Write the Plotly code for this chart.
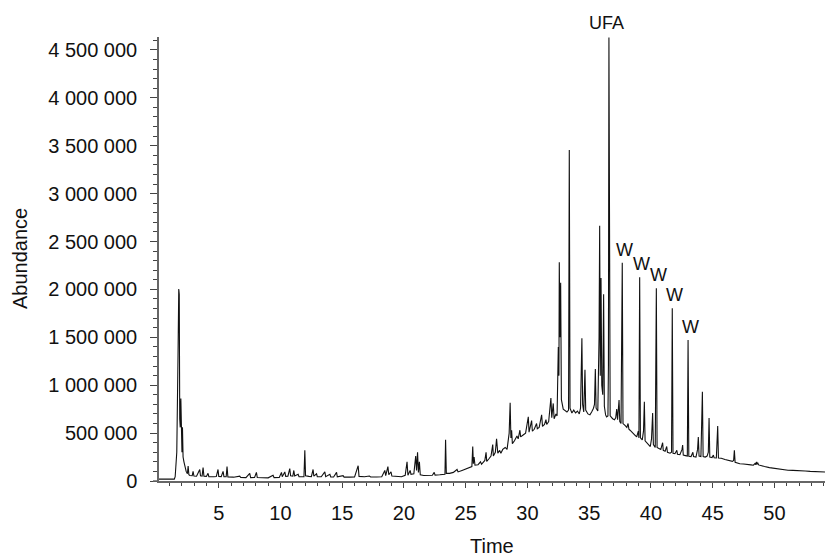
import plotly.graph_objects as go

# ---- digitised chromatogram (time in min, abundance in thousands) ----
T1 = [0.16, 1.40, 1.47, 1.60, 1.70, 1.76, 1.80, 1.84, 1.88, 1.93, 1.97, 2.02, 2.06, 2.11,
      2.18, 2.26, 2.36, 2.46, 2.52, 2.58, 2.66, 2.85, 2.92, 2.99]
A1 = [20, 20, 45, 300, 1300, 2005, 1950, 650, 560, 860, 420, 300, 560, 250,
      200, 140, 100, 75, 157, 65, 58, 55, 100, 52]

T2 = [3.2, 3.46, 3.52, 3.65, 3.73, 3.8, 4.0, 4.13, 4.2, 4.6, 4.8, 4.94, 5.0, 5.2, 5.35, 5.42,
      5.6, 5.67, 5.74, 6.2, 6.7, 6.78, 7.2, 7.51, 7.58, 7.9, 8.05, 8.12, 8.6, 9.0, 9.4, 9.48,
      9.9, 10.08, 10.14, 10.35, 10.42, 10.6, 10.75, 10.82, 11.0, 11.08, 11.15, 11.43, 11.5,
      11.9, 11.97, 12.03, 12.3, 12.5, 12.64, 12.7, 12.92, 12.98, 13.3, 13.59, 13.66, 14.0,
      14.07, 14.3, 14.54, 14.6, 15.07, 15.15, 15.6, 16.0, 16.29, 16.36, 16.8, 17.2, 17.3,
      17.7, 17.8, 18.2, 18.45, 18.52, 18.7, 18.77, 18.95, 19.02, 19.4, 19.8, 20.1, 20.25,
      20.32, 20.5, 20.57, 20.8, 20.95, 21.02, 21.1, 21.17, 21.25, 21.32, 21.6, 22.0]
A2 = [50, 120, 55, 52, 140, 50, 48, 80, 45, 44, 46, 120, 48, 46, 100, 45,
      44, 150, 42, 40, 50, 36, 35, 80, 35, 36, 90, 36, 34, 33, 60, 35,
      38, 90, 45, 95, 48, 50, 130, 55, 50, 110, 52, 70, 45,
      45, 320, 55, 48, 45, 120, 50, 75, 45, 44, 95, 45, 70,
      42, 42, 90, 43, 55, 40, 40, 42, 160, 48, 45, 52, 42,
      48, 42, 45, 110, 55, 150, 65, 95, 52, 48, 44, 60, 200,
      60, 110, 70, 75, 260, 110, 300, 90, 200, 65, 58, 55]

T3 = [22.3, 22.45, 22.52, 22.9, 23.32, 23.37, 23.43, 23.7, 24.0, 24.3, 24.38, 24.7, 25.0,
      25.3, 25.5, 25.57, 25.62, 25.68, 25.75, 26.0, 26.2, 26.28, 26.55, 26.65, 26.7, 26.9,
      27.05, 27.19, 27.24, 27.4, 27.5, 27.6, 27.75, 27.85, 28.0, 28.2, 28.35, 28.52, 28.6,
      28.66, 28.72, 28.78, 28.95, 29.15, 29.25, 29.39, 29.45, 29.65, 29.85, 30.07, 30.13,
      30.34, 30.4, 30.55, 30.74, 30.8, 30.95, 31.15, 31.22, 31.38, 31.5, 31.56, 31.72, 31.9,
      31.97, 32.09, 32.16, 32.31, 32.4, 32.5, 32.55, 32.58, 32.63, 32.69, 32.75, 32.9]
A3 = [60, 90, 62, 65, 70, 430, 80, 80, 90, 120, 95, 110, 125,
      140, 150, 360, 180, 250, 165, 170, 200, 175, 215, 300, 205, 235,
      260, 380, 260, 300, 440, 290, 320, 290, 330, 350, 330, 500, 817,
      450, 530, 390, 420, 470, 440, 530, 460, 480, 500, 670, 510,
      630, 520, 540, 600, 545, 560, 690, 570, 590, 640, 590, 620, 866,
      660, 810, 650, 700, 680, 1400, 1100, 2283, 1500, 2070, 850, 750]

T4 = [33.05, 33.2, 33.33, 33.39, 33.45, 33.6, 33.75, 33.9, 34.05, 34.2, 34.3, 34.41, 34.47,
      34.56, 34.66, 34.72, 34.9, 35.06, 35.2, 35.35, 35.43, 35.5, 35.56, 35.7, 35.8, 35.85,
      35.9, 35.96, 36.02, 36.1, 36.17, 36.23, 36.33, 36.41, 36.52, 36.56, 36.60, 36.64, 36.7,
      36.9, 37.05, 37.15, 37.23, 37.3, 37.42, 37.48, 37.58]
A4 = [730, 720, 740, 3455, 760, 710, 740, 710, 730, 700, 760, 1490, 800,
      720, 1160, 740, 700, 690, 720, 760, 800, 1170, 760, 730, 1500, 2665,
      1100, 2120, 1000, 900, 1950, 780, 690, 670, 680, 1200, 4630, 1300, 680,
      650, 640, 660, 750, 640, 845, 620, 600]

T5 = [37.68, 37.74, 37.9, 38.05, 38.15, 38.22, 38.31, 38.5, 38.7, 38.85, 38.98, 39.03, 39.09,
      39.15, 39.3, 39.4, 39.47, 39.53, 39.66, 39.8, 39.95, 40.05, 40.14, 40.2, 40.35, 40.44,
      40.5, 40.65, 40.8, 40.95, 41.0, 41.15, 41.28, 41.34, 41.55, 41.67, 41.73, 41.79, 41.95,
      42.1, 42.15, 42.35, 42.52, 42.57, 42.62, 42.8, 42.95, 43.01, 43.07, 43.25, 43.4, 43.45,
      43.65, 43.78, 43.84, 43.9, 44.05, 44.17, 44.23, 44.4, 44.55, 44.65, 44.71, 44.77, 44.95,
      45.06, 45.12, 45.3, 45.41, 45.47, 45.7, 46.0]
A5 = [2279, 600, 580, 560, 600, 540, 530, 510, 480, 460, 520, 450, 2126,
      450, 430, 520, 828, 420, 400, 380, 360, 440, 710, 380, 350, 2011,
      350, 340, 330, 400, 320, 310, 360, 300, 290, 300, 1803, 290, 285,
      320, 280, 275, 330, 376, 270, 265, 260, 1472, 258, 255, 300, 255,
      250, 330, 460, 260, 255, 932, 255, 250, 260, 300, 657, 250, 245,
      270, 242, 240, 574, 240, 237, 225]

T6 = [46.4, 46.6, 46.7, 46.76, 46.82, 47.0, 47.2, 47.5, 47.8, 48.1, 48.3, 48.45, 48.5, 48.57,
      48.62, 48.65, 48.72, 48.9, 49.2, 49.6, 50.0, 50.5, 51.1, 51.5, 52.0, 52.5, 52.9, 53.5, 54.1]
A6 = [210, 205, 215, 320, 195, 188, 180, 178, 170, 168, 165, 185, 168, 200,
      175, 190, 168, 160, 152, 140, 132, 125, 113, 111, 110, 104, 100, 97, 94]

# labelled peaks
UFA_TIME, UFA_HEIGHT_K = 36.60, 4630
W_TIMES = [37.68, 39.09, 40.44, 41.73, 43.01]
W_HEIGHTS_K = [2279, 2126, 2011, 1803, 1472]

X_TICKS = [5, 10, 15, 20, 25, 30, 35, 40, 45, 50]

time = T1 + T2 + T3 + T4 + T5 + T6
abund = [v * 1000 for v in (A1 + A2 + A3 + A4 + A5 + A6)]

FONT = "Liberation Sans, Arial, sans-serif"

fig = go.Figure()
fig.add_trace(go.Scatter(x=time, y=abund, mode="lines",
                         line=dict(color="#111111", width=1.1), showlegend=False,
                         hoverinfo="skip"))

axis_col = "#666666"
fig.update_xaxes(range=[0.16, 54.1], showgrid=False, zeroline=False,
                 showline=True, linecolor=axis_col, linewidth=1.5,
                 tickmode="array", tickvals=X_TICKS, ticktext=[str(v) for v in X_TICKS],
                 ticks="outside", ticklen=5, tickwidth=1.3, tickcolor="#444",
                 ticklabelstandoff=8,
                 minor=dict(dtick=1, tick0=0, ticks="outside", ticklen=3,
                            tickwidth=1, tickcolor="#444"),
                 tickfont=dict(family=FONT, size=20, color="#111"))
fig.update_yaxes(range=[0, 4.635e6], showgrid=False, zeroline=False,
                 showline=True, linecolor=axis_col, linewidth=1.5,
                 dtick=500000, tick0=0, tickformat=",d",
                 ticks="outside", ticklen=7, tickwidth=1.3, tickcolor="#444",
                 ticklabelstandoff=9,
                 minor=dict(dtick=100000, tick0=0, ticks="outside", ticklen=4,
                            tickwidth=1, tickcolor="#444"),
                 tickfont=dict(family=FONT, size=20, color="#111"))

annotations = [
    dict(x=0.5, y=-0.1685, xref="paper", yref="paper", text="Time", showarrow=False,
         xanchor="center", yanchor="bottom", yshift=-3,
         font=dict(family=FONT, size=20, color="#111")),
    dict(x=-0.2087, y=0.5, xref="paper", yref="paper", text="Abundance", showarrow=False,
         textangle=-90, xanchor="center", yanchor="middle",
         font=dict(family=FONT, size=20, color="#111")),
    dict(x=UFA_TIME, y=UFA_HEIGHT_K * 1000, xref="x", yref="y", text="UFA", showarrow=False,
         xanchor="center", yanchor="middle", xshift=-2, yshift=14,
         font=dict(family=FONT, size=18, color="#111")),
]
for t, h in zip(W_TIMES, W_HEIGHTS_K):
    annotations.append(dict(x=t, y=h * 1000, xref="x", yref="y", text="W", showarrow=False,
                            xanchor="center", yanchor="middle", xshift=2, yshift=13,
                            font=dict(family=FONT, size=18, color="#111")))

fig.update_layout(
    width=825, height=556,
    margin=dict(l=159, r=0, t=37, b=75),
    paper_bgcolor="white", plot_bgcolor="white",
    separators=". ",
    annotations=annotations,
    shapes=[dict(type="line", xref="paper", yref="paper", x0=-0.009, x1=0, y0=0, y1=0,
                 line=dict(color=axis_col, width=1.5))],
)

fig.write_html("out.html")
